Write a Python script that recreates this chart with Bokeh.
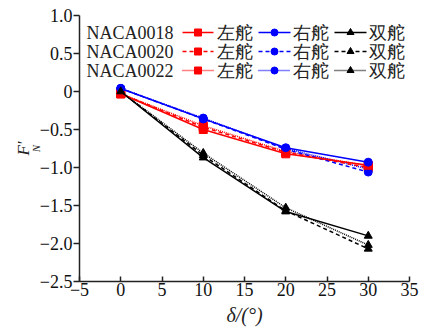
from bokeh.plotting import figure
from bokeh.models import Range1d, FixedTicker, CustomJSTickFormatter, Title
from bokeh.core.properties import value
from bokeh.embed import file_html
from bokeh.resources import INLINE

# ---------------- data ----------------
delta = [0, 10, 20, 30]
profiles = ["NACA0018", "NACA0020", "NACA0022"]
rudder_labels = ["左舵", "右舵", "双舵"]

left_0018 = [-0.03, -0.50, -0.82, -0.97]
right_0018 = [0.04, -0.36, -0.74, -0.93]
double_0018 = [0.00, -0.87, -1.58, -1.90]

left_0020 = [-0.03, -0.47, -0.80, -1.00]
right_0020 = [0.04, -0.36, -0.76, -1.06]
double_0020 = [0.00, -0.84, -1.57, -2.07]

left_0022 = [-0.03, -0.45, -0.79, -0.98]
right_0022 = [0.04, -0.35, -0.75, -1.02]
double_0022 = [0.00, -0.81, -1.53, -2.02]

x_ticks = [-5, 0, 5, 10, 15, 20, 25, 30, 35]
y_ticks = [1.0, 0.5, 0.0, -0.5, -1.0, -1.5, -2.0, -2.5]

# ---------------- styles ----------------
W, H = 432, 329
LB, RB, TB, BB = 79, 23, 15, 48
X0, X1, Y0, Y1 = -5, 35, -2.5, 1.0
FONT = "Liberation Serif"
INK = "#222222"

colors = ["#ff0000", "#0000ff", "#000000"]
markers = ["square", "circle", "triangle"]
dashes = ["solid", "4 3", "1 1"]

series = [
    [left_0018, right_0018, double_0018],
    [left_0020, right_0020, double_0020],
    [left_0022, right_0022, double_0022],
]

p = figure(width=W, height=H, output_backend="svg", toolbar_location=None,
           x_range=Range1d(X0, X1), y_range=Range1d(Y0, Y1),
           min_border_left=LB, min_border_right=RB, min_border_top=TB,
           min_border_bottom=BB)
p.background_fill_color = "white"
p.border_fill_color = "white"
p.outline_line_color = None
p.grid.visible = False

for si in [2, 1, 0]:
    for ri in range(3):
        ys = series[si][ri]
        p.line(delta, ys, line_color=colors[ri], line_width=1.5,
               line_dash=dashes[si])
        p.scatter(delta, ys, marker=markers[ri], size=8,
                  fill_color=colors[ri], line_color=colors[ri])

for ax in (p.xaxis[0], p.yaxis[0]):
    ax.axis_line_color = INK
    ax.axis_line_width = 1.5
    ax.major_tick_line_color = INK
    ax.major_tick_line_width = 1.5
    ax.minor_tick_line_color = None
    ax.major_label_text_font = FONT
    ax.major_label_text_font_size = "18px"
    ax.major_label_text_color = "#111111"

p.xaxis[0].ticker = FixedTicker(ticks=x_ticks)
p.yaxis[0].ticker = FixedTicker(ticks=y_ticks)
p.xaxis[0].major_tick_in = 5
p.xaxis[0].major_tick_out = 0
p.xaxis[0].major_label_standoff = 1
p.yaxis[0].major_tick_in = 0
p.yaxis[0].major_tick_out = 6
p.yaxis[0].major_label_standoff = 1
p.xaxis[0].formatter = CustomJSTickFormatter(
    code="return (tick < 0 ? '\\u2212' : '') + Math.abs(tick).toFixed(0);")
p.yaxis[0].formatter = CustomJSTickFormatter(
    code="return tick == 0 ? '0' : (tick < 0 ? '\\u2212' : '') + Math.abs(tick).toFixed(1);")

# x-axis title
p.xaxis[0].axis_label = "\u03b4/(\u00b0)"
p.xaxis[0].axis_label_text_font = FONT
p.xaxis[0].axis_label_text_font_size = "20px"
p.xaxis[0].axis_label_text_font_style = "italic"
p.xaxis[0].axis_label_text_color = INK
p.xaxis[0].axis_label_standoff = 5

# y-axis title: F' with subscript N, as two side titles
p.add_layout(Title(text="N", text_font=FONT, text_font_size="11px",
                   text_font_style="italic", text_color=INK, align="center",
                   offset=17, standoff=-10, vertical_align="bottom"), "left")
p.add_layout(Title(text="F\u2032", text_font=FONT, text_font_size="17px",
                   text_font_style="italic", text_color=INK, align="center",
                   offset=-4, standoff=0, vertical_align="bottom"), "left")


def dx(px):
    return X0 + (px - LB) * (X1 - X0) / (W - LB - RB)


def dy(py):
    return Y1 - (py - TB) * (Y1 - Y0) / (H - TB - BB)


# ---------------- legend (manual, 3 x 3) ----------------
row_py = [32, 51, 70]
sample_px = [(182, 213), (258, 290), (334, 366)]
label_px = [216, 292, 368]
for si in range(3):
    yy = dy(row_py[si])
    p.text(x=[dx(86)], y=[yy], text=[profiles[si]], text_font=value(FONT),
           text_font_size="18px", text_baseline="middle", text_align="left",
           text_color=INK)
    for ri in range(3):
        a, b = sample_px[ri]
        p.line([dx(a), dx(b)], [yy, yy], line_color=colors[ri], line_width=1.5,
               line_dash=dashes[si])
        p.scatter([dx((a + b) / 2)], [yy], marker=markers[ri], size=7,
                  fill_color=colors[ri], line_color=colors[ri])
        p.text(x=[dx(label_px[ri])], y=[yy], text=[rudder_labels[ri]],
               text_font=value(FONT), text_font_size="18px",
               text_baseline="middle", text_align="left", text_color=INK)

open("out.html", "w").write(file_html(p, INLINE))
